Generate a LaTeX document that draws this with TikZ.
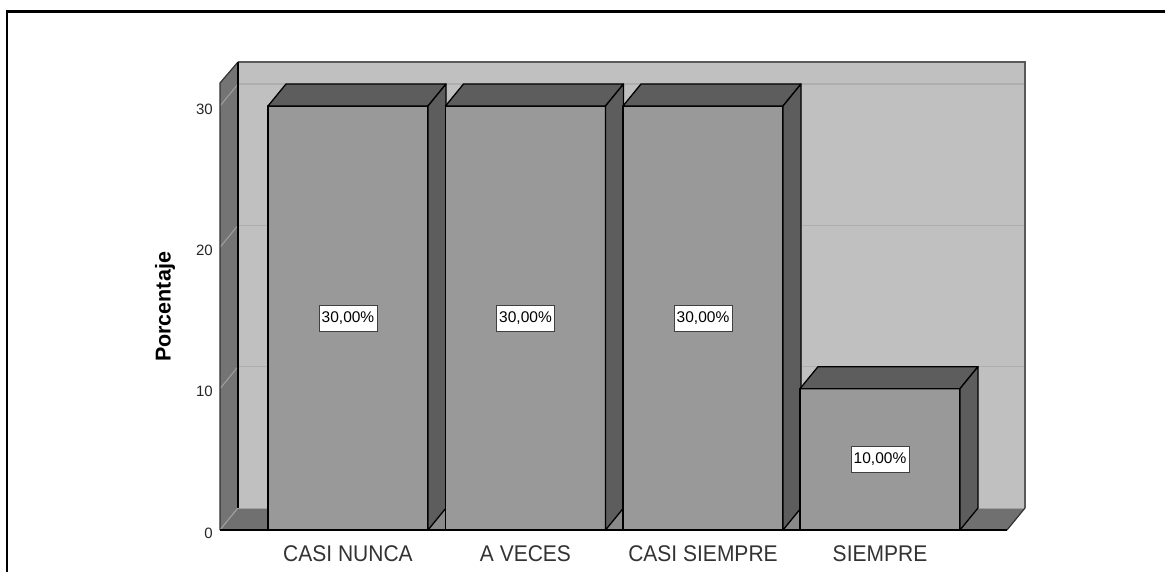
\documentclass[tikz,border=0pt]{standalone}
\usepackage{fontspec}
\setmainfont{Liberation Sans}
\definecolor{backwall}{HTML}{C0C0C0}
\definecolor{sidewall}{HTML}{747474}
\definecolor{floorc}{HTML}{707070}
\definecolor{gapc}{HTML}{8A8A8A}
\definecolor{barfront}{HTML}{999999}
\definecolor{bardark}{HTML}{5D5D5D}
\definecolor{gridback}{HTML}{AEAEAE}
\definecolor{gridside}{HTML}{A0A0A0}
\begin{document}
\begin{tikzpicture}[x=1pt,y=-1pt,
  edge/.style={draw=black,line width=1.3pt,line join=round},
  ticklab/.style={anchor=east,inner sep=0pt,text=black!85,font=\fontsize{15}{17}\selectfont},
  catlab/.style={inner sep=0pt,text=black!80,yscale=1.08,font=\fontsize{21}{24}\selectfont},
  vallab/.style={draw=black!75,line width=1pt,fill=white,inner sep=0pt,minimum width=58pt,minimum height=26pt,font=\fontsize{15.5}{17}\selectfont},
  axislab/.style={rotate=90,inner sep=0pt,font=\bfseries\fontsize{21.5}{24}\selectfont}]
\useasboundingbox (0,0) rectangle (1165,572);
\fill[white] (0,0) rectangle (1165,572);
% outer frame
\draw[line width=2.6pt] (7,573) -- (7,11.5) -- (1166,11.5);
% back wall
\fill[backwall] (238,62) rectangle (1025,508);
\foreach \v in {10,20,30}
  \draw[gridback,line width=1.2pt] (238,{508-\v*14.133}) -- (1025,{508-\v*14.133});
\draw[black!65,line width=1.2pt] (238,62) -- (1025,62) -- (1025,508);
% left wall
\fill[sidewall] (220,83) -- (238,62) -- (238,508) -- (220,530) -- cycle;
\foreach \v in {0,10,20,30}
  \draw[gridside,line width=1pt] (220,{530-\v*14.133}) -- (238,{508-\v*14.133});
\draw[black!80,line width=1.2pt] (220,530) -- (220,83) -- (238,62);
\draw[edge] (238,62) -- (238,508);
% floor
\fill[floorc] (238,508) -- (1025,508) -- (1007,530) -- (220,530) -- cycle;
\draw[gridside,line width=1pt] (238,508) -- (1025,508);
\draw[gridside,line width=1pt] (220,530) -- (238,508);
\draw[black!80,line width=1.2pt] (1007,530) -- (1025,508);
% gap triangles on the floor between bars
\foreach \x in {428,605.5,783}
  \fill[gapc] (\x,530) -- (\x+18,508) -- (\x+18,530) -- cycle;
% bars
\foreach \x/\h/\lab/\nm in {268/30/CASI NUNCA/a,445.5/30/A VECES/b,623/30/CASI SIEMPRE/c,800/10/SIEMPRE/d}{
  \pgfmathsetmacro\yt{530-\h*14.133}
  \filldraw[fill=barfront,edge] (\x,\yt) rectangle (\x+160,530);
  \filldraw[fill=bardark,edge] (\x,\yt) -- (\x+18,\yt-22) -- (\x+178,\yt-22) -- (\x+160,\yt) -- cycle;
  \filldraw[fill=bardark,edge] (\x+160,\yt) -- (\x+178,\yt-22) -- (\x+178,508) -- (\x+160,530) -- cycle;
  \node[vallab] (val\nm) at (\x+80,{(\yt+530)/2}) {\h,00\%};
  \node[catlab] (cat\nm) at (\x+80,553.5) {\lab};
}
\draw[black,line width=1.3pt] (220,530) -- (1007,530);
% y tick labels
\foreach \v in {0,10,20,30}
  \node[ticklab] (tick\v) at (213,{533-\v*14.133}) {\v};
\node[axislab] (ylab) at (165,307) {Porcentaje};
\end{tikzpicture}
\end{document}
